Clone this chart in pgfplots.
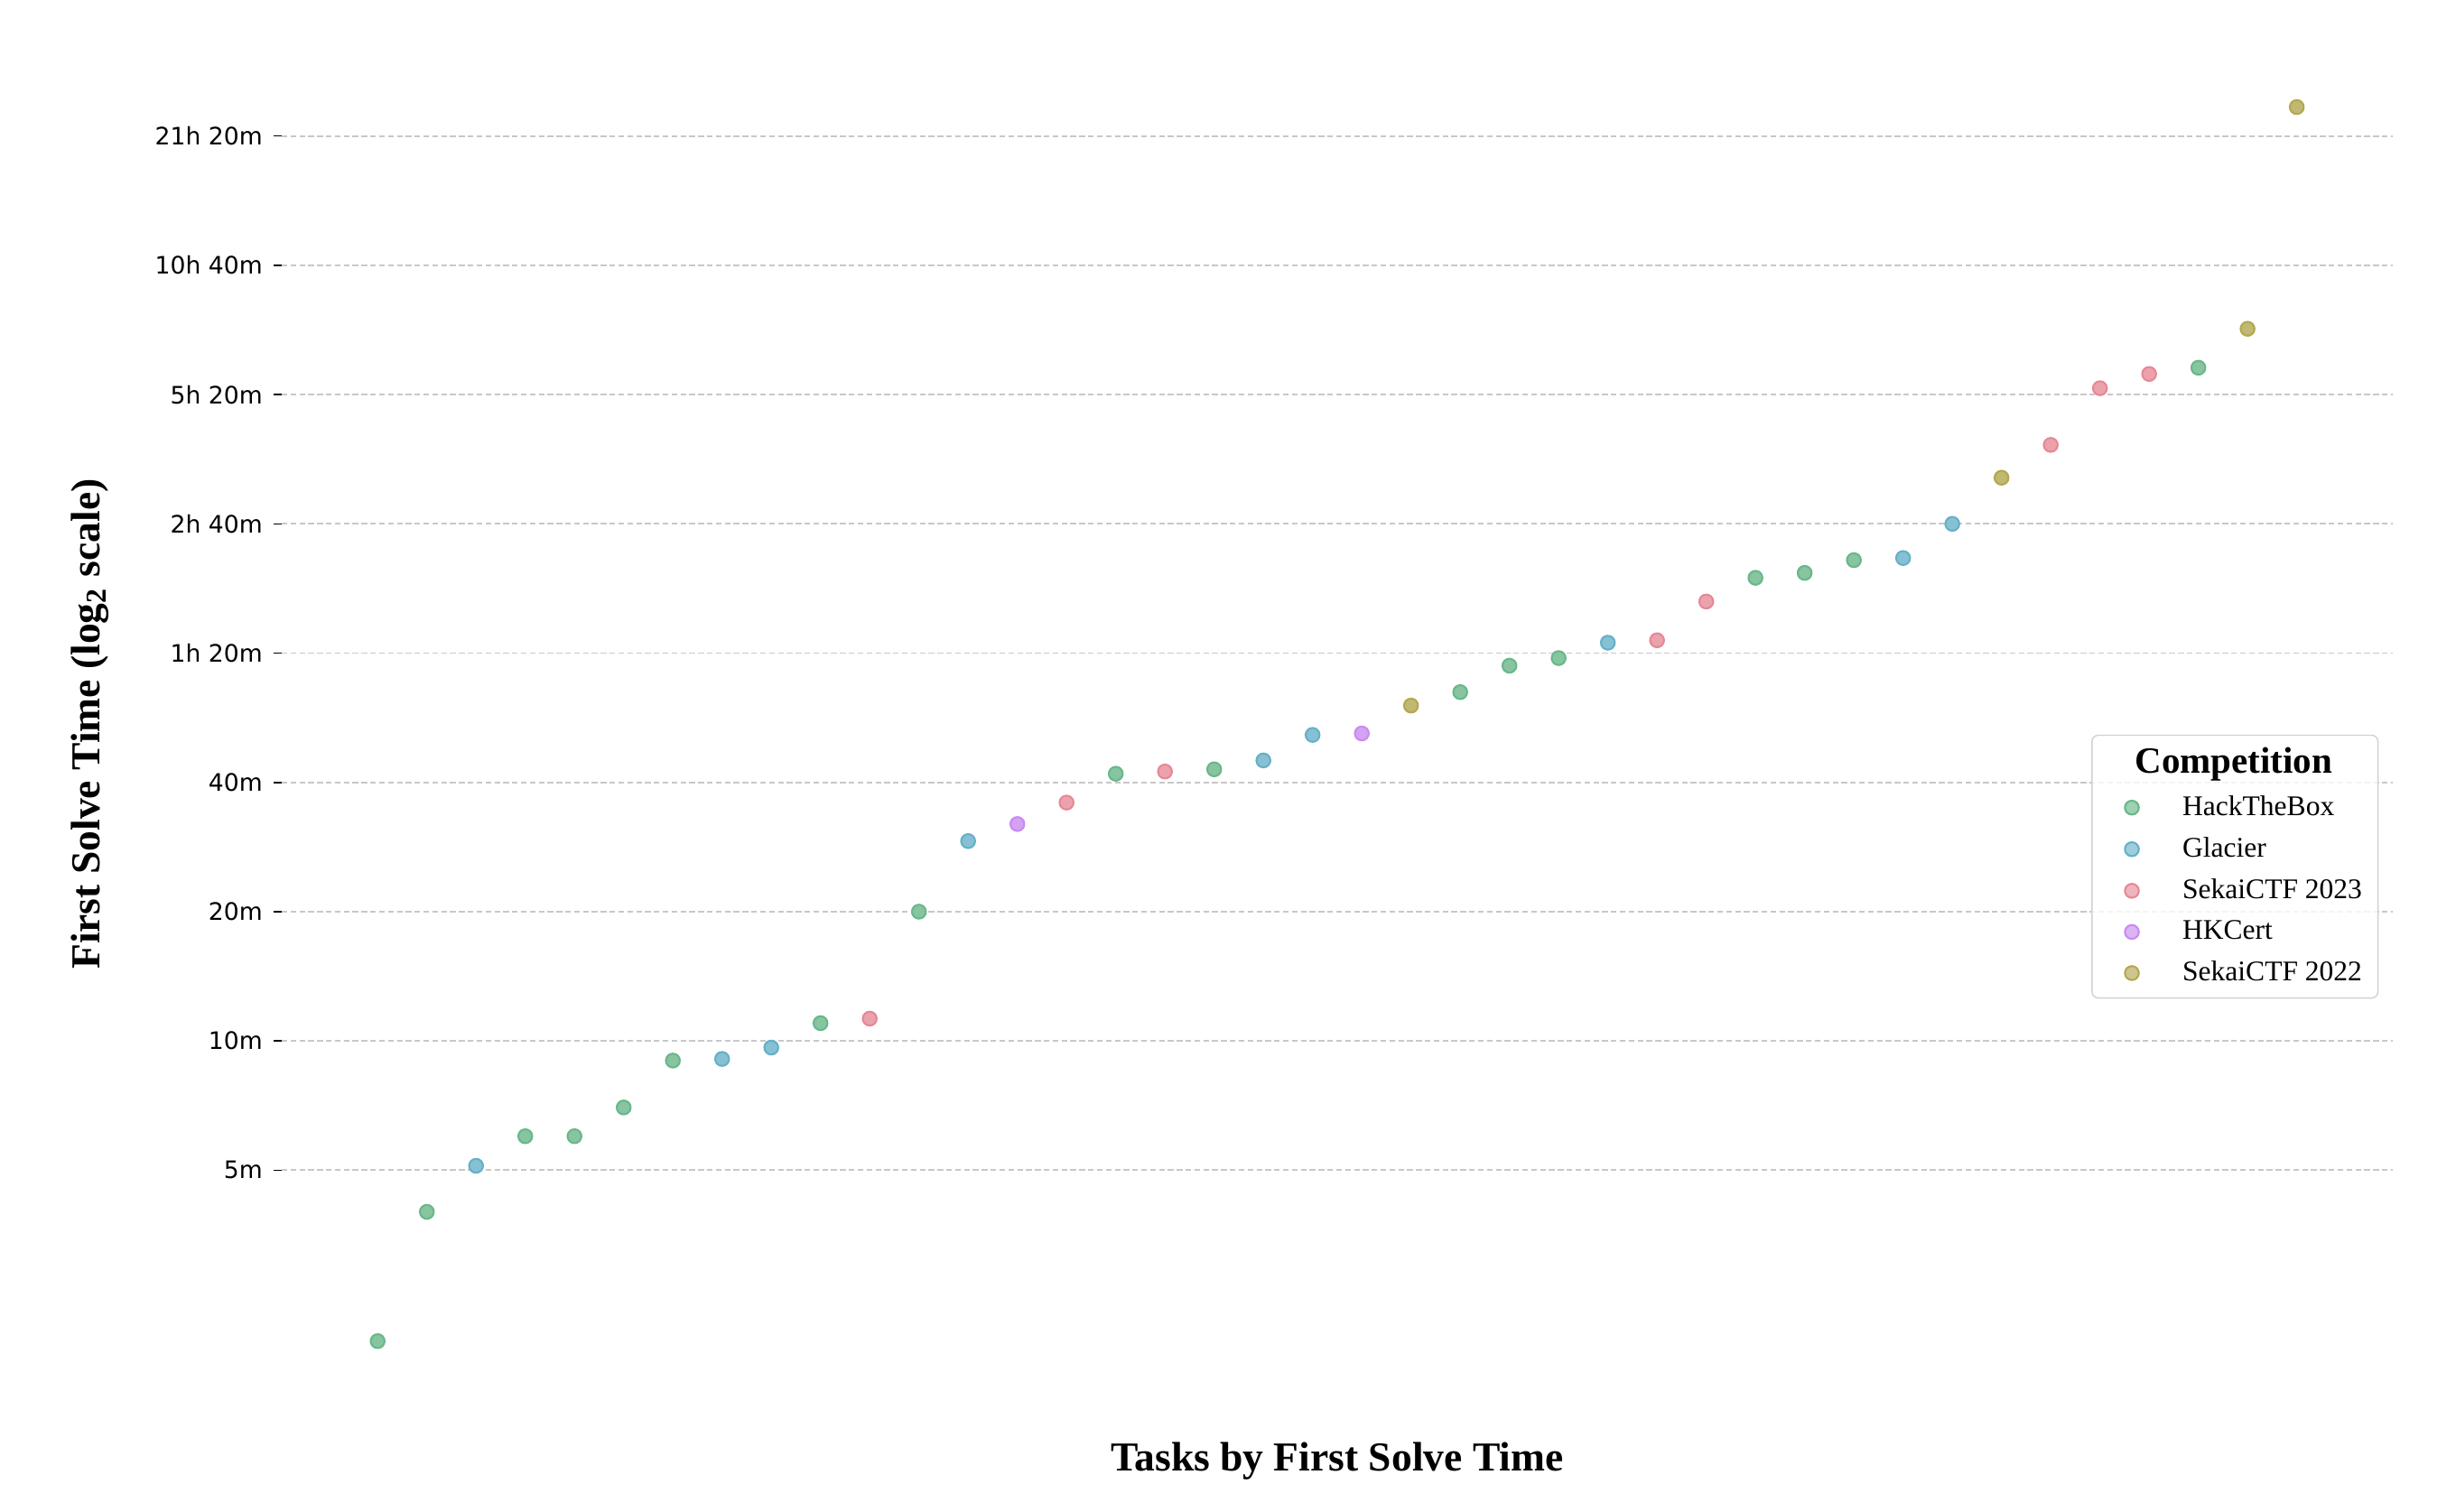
\documentclass[border=0pt]{standalone}
\usepackage{fontspec}
\setmainfont{Liberation Serif}
\newfontfamily\dejavu{DejaVu Sans}
\usepackage{pgfplots}
\pgfplotsset{compat=1.18}

% seaborn-like marker colours, already blended with the alpha
\definecolor{htbfill}{RGB}{134,197,160}
\definecolor{htbdraw}{RGB}{106,183,138}
\definecolor{glafill}{RGB}{134,193,211}
\definecolor{gladraw}{RGB}{101,176,200}
\definecolor{stfill}{RGB}{236,162,172}
\definecolor{stdraw}{RGB}{230,136,150}
\definecolor{hkfill}{RGB}{211,162,243}
\definecolor{hkdraw}{RGB}{201,139,239}
\definecolor{sofill}{RGB}{193,184,116}
\definecolor{sodraw}{RGB}{179,168,79}
\definecolor{gridgray}{RGB}{200,200,200}

\begin{document}
\begin{tikzpicture}
\begin{axis}[
    scale only axis,
    width=667pt, height=429pt,
    xmin=-1.95, xmax=40.95,
    ymode=log, log basis y=2,
    ymin=1.437, ymax=2081,
    xtick=\empty,
    ytick={5,10,20,40,80,160,320,640,1280},
    yticklabels={5m,10m,20m,40m,1h 20m,2h 40m,5h 20m,10h 40m,21h 20m},
    ytick pos=left,
    tick align=outside,
    major tick length=2.5pt,
    tick style={black, line width=0.45pt},
    axis line style={draw=none},
    yticklabel style={font=\dejavu\fontsize{7.6}{9}\selectfont, text=black},
    ymajorgrids=true,
    grid style={gridgray, line width=0.5pt, dash pattern=on 1.8pt off 1pt},
    xlabel={Tasks by First Solve Time},
    ylabel={First Solve Time (log\textsubscript{2} scale)},
    label style={font=\bfseries\fontsize{13}{15}\selectfont},
    xlabel style={at={(axis description cs:0.5,-0.0431)}, anchor=center},
    ylabel style={at={(axis description cs:-0.0907,0.5)}, anchor=center},
    legend cell align=left,
    legend image code/.code={%
        \path[draw=none, fill=none] (-9.6pt,-1pt) rectangle (14pt,1pt);
        \draw[#1] plot coordinates {(0pt,0pt)};},
    legend style={at={(0.9933,0.395)}, anchor=east,
        draw=black!18, rounded corners=2pt,
        fill=white, fill opacity=0.8, text opacity=1,
        row sep=1.4pt,
        font=\fontsize{9}{11}\selectfont},
    every axis plot/.append style={only marks, mark=*, mark size=2.2pt, line width=0.6pt},
]
\coordinate (bl) at (rel axis cs:0,0);
\coordinate (tr) at (rel axis cs:1,1);

\addlegendimage{empty legend}
\addlegendentry{\hspace*{-15pt}\textbf{\fontsize{11.7}{13}\selectfont Competition}\rule[-3.2pt]{0pt}{1pt}}

\addplot[mark options={fill=htbfill, draw=htbdraw}] coordinates {
(0,2.0)(1,4.0)(3,6.0)(4,6.0)(5,7.0)(6,9.0)(9,11.0)(11,20.0)
(15,41.9)(17,42.9)(22,64.9)(23,74.8)(24,77.9)(28,119.8)(29,123.0)(30,131.7)(37,369.6)
};
\addlegendentry{HackTheBox}

\addplot[mark options={fill=glafill, draw=gladraw}] coordinates {
(2,5.12)(7,9.08)(8,9.65)(12,29.2)(18,45.0)(19,51.6)(25,84.6)(31,133.2)(32,160)
};
\addlegendentry{Glacier}

\addplot[mark options={fill=stfill, draw=stdraw}] coordinates {
(10,11.27)(14,35.9)(16,42.4)(26,85.7)(27,105.5)(34,244.3)(35,331.1)(36,357.4)
};
\addlegendentry{SekaiCTF 2023}

\addplot[mark options={fill=hkfill, draw=hkdraw}] coordinates {
(13,32.0)(20,52.0)
};
\addlegendentry{HKCert}

\addplot[mark options={fill=sofill, draw=sodraw}] coordinates {
(21,60.4)(33,204.9)(38,455.3)(39,1495)
};
\addlegendentry{SekaiCTF 2022}
\end{axis}
\pgfresetboundingbox
\path ([shift={(-89pt,-34.5pt)}]bl) rectangle ([shift={(20pt,14.35pt)}]tr);
\end{tikzpicture}
\end{document}
